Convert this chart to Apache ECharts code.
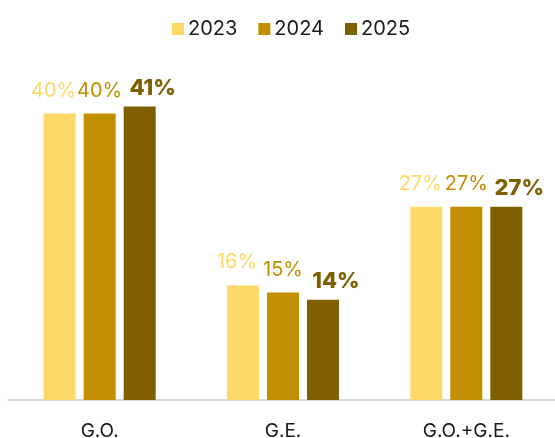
<!DOCTYPE html>
<html>
<head>
<meta charset="utf-8">
<script src="https://cdn.jsdelivr.net/npm/echarts@6/dist/echarts.min.js"></script>
<style>
  html, body { margin: 0; padding: 0; background: #fff; }
  #chart { width: 555px; height: 438px; }
</style>
</head>
<body>
<div id="chart"></div>
<script>
const categories = ['G.O.', 'G.E.', 'G.O.+G.E.']
const years = ['2023', '2024', '2025']
const values2023 = [40, 16, 27]
const values2024 = [40, 15, 27]
const values2025 = [41, 14, 27]

const colors = ['#FFD966', '#C28F00', '#7F6000']
const font = 'Inter'

const chart = echarts.init(document.getElementById('chart'))

function barSeries(name, data, color, labelOpts) {
  return {
    name: name,
    type: 'bar',
    data: data,
    barWidth: 32,
    barGap: '25%',
    itemStyle: { color: color },
    label: Object.assign({
      show: true,
      position: 'top',
      formatter: '{c}%',
      color: color,
      fontFamily: font,
      fontSize: 20
    }, labelOpts)
  }
}

chart.setOption({
  animation: false,
  legend: {
    data: years,
    top: 14,
    left: 167,
    itemWidth: 12,
    itemHeight: 12,
    itemGap: 21,
    icon: 'rect',
    textStyle: { fontFamily: font, fontSize: 20, color: '#1a1a1a', padding: [0, 0, 0, -1] }
  },
  grid: { left: 8, width: 550, top: 42, bottom: 38, containLabel: false, outerBoundsMode: 'none' },
  xAxis: {
    type: 'category',
    data: categories,
    axisLine: { lineStyle: { color: '#d9d9d9', width: 2 } },
    axisTick: { show: false },
    axisLabel: { fontFamily: font, fontSize: 19, color: '#1a1a1a', margin: 22 }
  },
  yAxis: {
    type: 'value',
    min: 0,
    max: 50,
    show: false
  },
  series: [
    barSeries(years[0], values2023, colors[0], { distance: 13, offset: [-6, 0] }),
    barSeries(years[1], values2024, colors[1], { distance: 13 }),
    barSeries(years[2], values2025, colors[2], { distance: 7, fontWeight: 800, fontSize: 22, offset: [13, 0] })
  ]
})
</script>
</body>
</html>
